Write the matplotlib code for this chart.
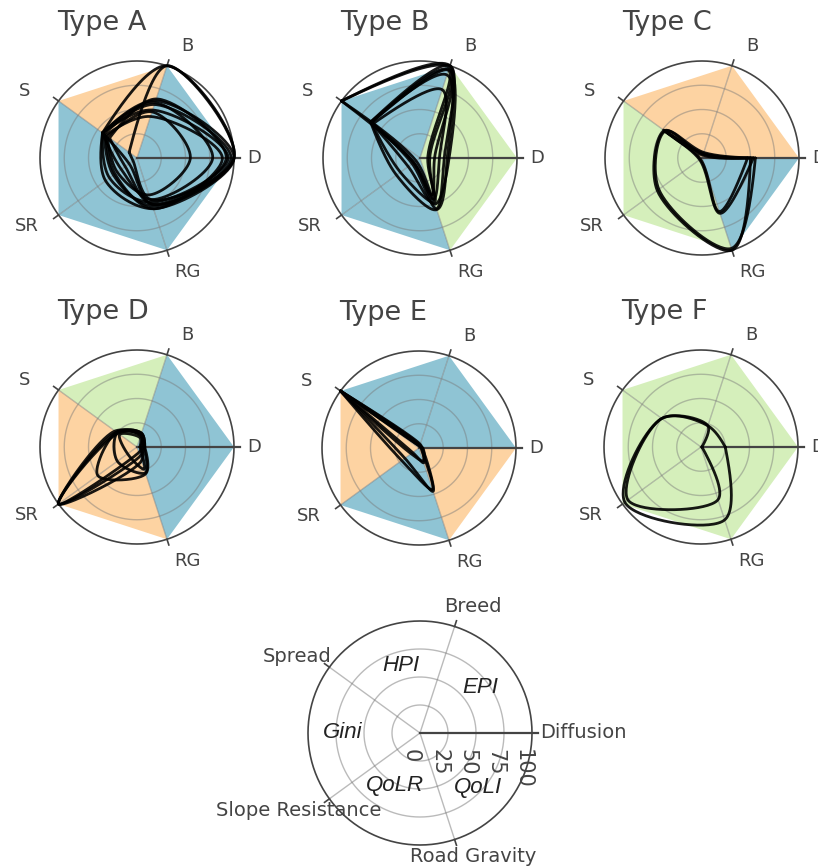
import numpy as np
import matplotlib.pyplot as plt

# axes of every radar, counter-clockwise from the right
axis_short = ['D', 'B', 'S', 'SR', 'RG']
axis_long = ['Diffusion', 'Breed', 'Spread', 'Slope Resistance', 'Road Gravity']
axis_angles = [0, 72, 144, 216, 288]
index_names = ['EPI', 'HPI', 'Gini', 'QoLR', 'QoLI']   # wedge between axis k and k+1
radial_ticks = [0, 25, 50, 75, 100]

type_names = ['Type A', 'Type B', 'Type C', 'Type D', 'Type E', 'Type F']
# axis on which the lines of each type start and end
type_start = ['S', 'S', 'D', 'D', 'S', 'D']

# parameter sets [D, B, S, SR, RG] of each type
type_a = [[100, 100, 44, 10, 50],
          [100, 100, 10, 5, 45],
          [100, 62, 44, 40, 55],
          [97, 58, 42, 30, 52],
          [94, 52, 44, 35, 48],
          [88, 45, 40, 28, 55],
          [78, 60, 44, 20, 45],
          [55, 50, 38, 25, 40],
          [92, 64, 35, 15, 50]]
type_b = [[15, 100, 100, 8, 40],
          [10, 98, 100, 5, 45],
          [25, 100, 63, 10, 55],
          [30, 96, 62, 15, 50],
          [20, 74, 60, 8, 45],
          [28, 90, 63, 30, 56],
          [8, 95, 62, 25, 48]]
type_c = [[50, 4, 48, 57, 100],
          [55, 6, 47, 55, 98],
          [47, 3, 49, 2, 58],
          [53, 5, 46, 3, 60]]
type_d = [[8, 15, 26, 100, 10],
          [6, 12, 28, 100, 6],
          [4, 14, 24, 100, 15],
          [8, 15, 26, 50, 29],
          [7, 13, 25, 25, 28],
          [3, 10, 22, 12, 24]]
type_e = [[3, 2, 100, 18, 47],
          [2, 3, 100, 22, 45],
          [4, 2, 100, 8, 16],
          [3, 4, 100, 10, 14]]
type_f = [[25, 23, 50, 97, 79],
          [1, 23, 50, 93, 57]]
type_traces = [type_a, type_b, type_c, type_d, type_e, type_f]

# level of each index wedge [EPI, HPI, Gini, QoLR, QoLI]
type_levels = [['high', 'mid', 'high', 'high', 'high'],
               ['low', 'high', 'high', 'high', 'low'],
               ['mid', 'mid', 'low', 'low', 'high'],
               ['high', 'low', 'mid', 'mid', 'high'],
               ['high', 'high', 'mid', 'high', 'mid'],
               ['low', 'low', 'low', 'low', 'low']]
level_colors = {'high': '#8fc4d4', 'mid': '#fdd3a2', 'low': '#d5efbb'}

W, H = 818, 868
fig = plt.figure(figsize=(W / 100, H / 100), dpi=100)
fig.patch.set_facecolor('white')
GRAY = '#444444'


def make_axes(cx, cy, R):
    s = R / 100.0
    L = 135.0
    half = L * s
    ax = fig.add_axes([(cx - half) / W, (H - cy - half) / H, 2 * half / W, 2 * half / H])
    ax.set_xlim(-L, L)
    ax.set_ylim(-L, L)
    ax.axis('off')
    return ax, s


def xy(r, ang):
    a = np.deg2rad(ang)
    return r * np.cos(a), r * np.sin(a)


def make_tangent(p0, p1, p2, smooth=1.0):
    d1 = p0 - p1
    d2 = p2 - p1
    a1 = np.hypot(*d1) ** 0.5
    a2 = np.hypot(*d2) ** 0.5
    num = (a2 * a2 * d1 - a1 * a1 * d2) * smooth
    den1 = 3 * a2 * (a1 + a2)
    den2 = 3 * a1 * (a1 + a2)
    t0 = p1 + (num / den1 if den1 else 0)
    t1 = p1 - (num / den2 if den2 else 0)
    return t0, t1


def smooth_open(pts, n=40):
    tans = [make_tangent(pts[i - 1], pts[i], pts[i + 1]) for i in range(1, len(pts) - 1)]
    t = np.linspace(0, 1, n)[:, None]
    segs = []
    p0, c, p1 = pts[0], tans[0][0], pts[1]
    segs.append((1 - t) ** 2 * p0 + 2 * (1 - t) * t * c + t ** 2 * p1)
    for i in range(2, len(pts) - 1):
        a, b, c2, d = pts[i - 1], tans[i - 2][1], tans[i - 1][0], pts[i]
        segs.append((1 - t) ** 3 * a + 3 * (1 - t) ** 2 * t * b + 3 * (1 - t) * t ** 2 * c2 + t ** 3 * d)
    p0, c, p1 = pts[-2], tans[-1][1], pts[-1]
    segs.append((1 - t) ** 2 * p0 + 2 * (1 - t) * t * c + t ** 2 * p1)
    return np.vstack(segs)


def draw_frame(ax, s, grid_alpha=0.45):
    th = np.linspace(0, 2 * np.pi, 361)
    for r in radial_ticks[1:-1]:
        ax.plot(r * np.cos(th), r * np.sin(th), color='#777777', alpha=grid_alpha, lw=1.0, zorder=2)
    for ang in axis_angles[1:]:
        x, y = xy(np.array([0, 100]), ang)
        ax.plot(x, y, color='#777777', alpha=grid_alpha, lw=1.0, zorder=2)
        x, y = xy(np.array([100, 100 + 6 / s]), ang)
        ax.plot(x, y, color=GRAY, lw=1.2, zorder=3, clip_on=False)
    ax.plot(100 * np.cos(th), 100 * np.sin(th), color=GRAY, lw=1.2, zorder=3, clip_on=False)
    x, y = xy(np.array([0, 100 + 6 / s]), 0)
    ax.plot(x, y, color=GRAY, lw=1.6, zorder=3, clip_on=False)


# six type panels
centers = [(137, 158), (420, 158), (702, 158), (137, 447), (419, 448), (701, 447)]
R = 97
label_off = {'D': (110, 0, 'left'), 'B': (50, -112, 'center'), 'S': (-112, -67, 'center'),
             'SR': (-110, 68, 'center'), 'RG': (50, 114, 'center')}

for k, (cx, cy) in enumerate(centers):
    ax, s = make_axes(cx, cy, R)
    for w in range(5):
        a0, a1 = axis_angles[w], axis_angles[(w + 1) % 5]
        x0, y0 = xy(100, a0)
        x1, y1 = xy(100, a1)
        ax.fill([0, x0, x1], [0, y0, y1], color=level_colors[type_levels[k][w]], lw=0, zorder=1)
    draw_frame(ax, s)
    first = axis_short.index(type_start[k])
    order = [(first + j) % 5 for j in range(6)]
    for vals in type_traces[k]:
        r = np.array([vals[i] for i in order], dtype=float)
        ang = np.array([axis_angles[i] for i in order], dtype=float)
        px, py = xy(r, ang)
        curve = smooth_open(np.column_stack([px, py]))
        ax.plot(curve[:, 0], curve[:, 1], color='black', lw=2.0, alpha=0.9, zorder=5,
                solid_capstyle='round', solid_joinstyle='round')
    for name in axis_short:
        dx, dy, ha = label_off[name]
        ax.text(dx / s, -dy / s, name, ha=ha, va='center', fontsize=13, color=GRAY)
    fig.text((cx - 80) / W, 1 - (cy - 128) / H, type_names[k], ha='left', va='baseline',
             fontsize=19.5, color=GRAY)

# key panel
ax, s = make_axes(420, 733, 112)
draw_frame(ax, s, grid_alpha=0.5)
key_off = {'Diffusion': (120, 0, 'left'), 'Breed': (53, -126, 'center'), 'Spread': (-123, -76, 'center'),
           'Slope Resistance': (-121, 77, 'center'), 'Road Gravity': (53, 124, 'center')}
for name in axis_long:
    dx, dy, ha = key_off[name]
    ax.text(dx / s, -dy / s, name, ha=ha, va='center', fontsize=14, color=GRAY)

index_pos = [(37, 67), (106, 63), (180, 69), (244, 52), (317, 71)]
for name, (ang, r) in zip(index_names, index_pos):
    x, y = xy(r, ang)
    ax.text(x, y, name, ha='center', va='center', fontsize=16, style='italic', color='#222222',
            family=['Liberation Sans Narrow', 'Liberation Sans', 'DejaVu Sans'])

for t in radial_ticks:
    ax.text(t - 8, -14, str(t), rotation=-90, ha='center', va='top', fontsize=15, color=GRAY)

fig.savefig('out.png', dpi=100, facecolor='white')
